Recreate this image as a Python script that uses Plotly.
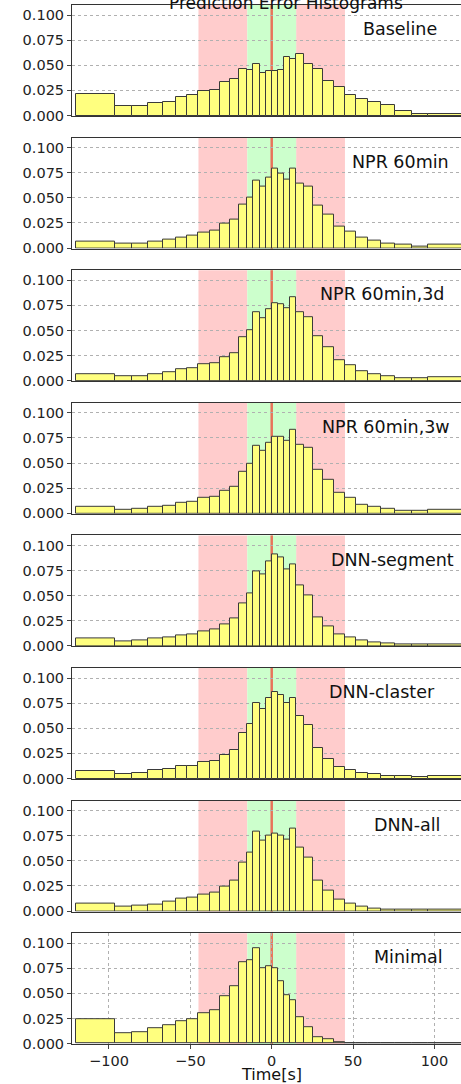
import plotly.graph_objects as go

edges = [-120, -96, -86, -76, -67, -59, -52, -45, -38, -31.5, -25.5, -20, -15, -11.25, -7.5, -3.75, 0,
         3.75, 7.5, 11.25, 15, 20, 25.5, 31.5, 38, 45, 52, 59, 67, 76, 86, 96, 120]

names = ["Baseline", "NPR 60min", "NPR 60min,3d", "NPR 60min,3w", "DNN-segment", "DNN-claster", "DNN-all", "Minimal"]

baseline = [.021, .009, .0095, .012, .0135, .018, .020, .024, .025, .033, .036, .046, .045, .051, .042, .044,
            .044, .045, .058, .056, .061, .051, .046, .034, .028, .020, .016, .013, .010, .004, .0015, .001]
npr60 = [.0066, .004, .0046, .0066, .008, .010, .012, .0156, .017, .024, .0285, .0437, .050, .067, .061, .070,
         .079, .074, .068, .079, .0646, .0616, .0427, .0338, .021, .0166, .010, .007, .0046, .0033, .0017, .0036]
npr3d = [.0066, .0043, .0046, .0066, .0086, .0113, .0123, .0162, .0172, .0235, .0275, .0437, .0503, .0679, .0626, .0709,
         .0775, .0758, .0719, .0828, .0682, .0632, .044, .0331, .0205, .0152, .0093, .0063, .004, .0026, .0023, .0036]
npr3w = [.0063, .0036, .0043, .0063, .0079, .0106, .0116, .0152, .0166, .0222, .0265, .0414, .0493, .0669, .0619, .0702,
         .0762, .0758, .0719, .0834, .0685, .0652, .0434, .0331, .0205, .0152, .0086, .006, .004, .0026, .002, .0036]
dnn_seg = [.007, .004, .005, .0073, .0086, .0106, .0119, .0149, .0162, .0215, .0272, .0424, .0523, .0742, .0715, .0841,
           .0914, .0881, .0762, .0811, .0603, .0503, .0288, .0195, .0116, .0086, .0053, .0036, .0023, .0017, .0013, .0017]
dnn_cl = [.0079, .0046, .0056, .0083, .0092, .0122, .0129, .0162, .0178, .0231, .0287, .0455, .0541, .0749, .0696, .0802,
          .0861, .0835, .0749, .0805, .062, .0531, .0304, .0198, .0116, .0086, .0059, .0043, .0026, .002, .0017, .0026]
dnn_all = [.0076, .004, .0053, .0066, .0092, .0122, .0132, .0162, .0182, .0241, .0304, .0482, .0584, .0789, .0703, .0749,
           .0769, .0752, .071, .0818, .0637, .0528, .0304, .0208, .0116, .0073, .004, .0026, .0017, .0013, .0013, .0017]
minimal = [.0247, .0107, .0117, .0153, .018, .022, .0247, .030, .033, .0467, .057, .081, .0827, .0947, .0747, .0773,
           .075, .062, .048, .043, .026, .016, .0067, .0043, .0017, .0007, .0005, .0003, .0002, .0001, .0001, .0001]
series = [baseline, npr60, npr3d, npr3w, dnn_seg, dnn_cl, dnn_all, minimal]
label_x = [79, 79, 68, 70, 74, 68, 83, 84]

yticks = [0, 0.025, 0.05, 0.075, 0.1]
xticks = [-100, -50, 0, 50, 100]

centers = [(a + b) / 2 for a, b in zip(edges[:-1], edges[1:])]
widths = [b - a for a, b in zip(edges[:-1], edges[1:])]

W, H = 461, 1084
mt, mb = 5, 40
ph = H - mt - mb
top0, pitch, hgt = 5, 132.6, 111
fig = go.Figure()
shapes, annos = [], []
for i, (nm, vals) in enumerate(zip(names, series)):
    k = "" if i == 0 else str(i + 1)
    t = top0 + i * pitch
    d1 = min(1, 1 - (t - mt) / ph)
    d0 = max(0, 1 - (t + hgt - mt) / ph)
    fig.add_trace(go.Bar(x=centers, y=vals, width=widths, xaxis="x" + k, yaxis="y" + k,
                         marker=dict(color="#ffff7f", line=dict(color="#3a3a3a", width=1)),
                         showlegend=False))
    last = i == len(names) - 1
    fig.update_layout(**{
        "xaxis" + k: dict(domain=[0, 1], anchor="y" + k, range=[-122.7, 116.3], tickvals=xticks,
                          showticklabels=last, ticks="outside" if last else "", ticklen=4,
                          showgrid=last, gridcolor="#b0b0b0", griddash="dot", zeroline=False,
                          showline=True, linecolor="#333", mirror=True,
                          tickfont=dict(size=14.5)),
        "yaxis" + k: dict(domain=[d0, d1], anchor="x" + k, range=[-0.0005, 0.11], tickvals=yticks,
                          tickformat=".3f", ticks="outside", ticklen=4, showgrid=True,
                          gridcolor="#b0b0b0", griddash="dot", zeroline=False,
                          showline=True, linecolor="#333", mirror=True, tickfont=dict(size=14.5)),
    })
    xr, yd = "x" + k, "y" + k + " domain"
    for (a, b, c) in [(-45, -15, "#ffcccc"), (15, 45, "#ffcccc"), (-15, 15, "#ccffcc")]:
        shapes.append(dict(type="rect", xref=xr, yref=yd, x0=a, x1=b, y0=0, y1=1,
                           fillcolor=c, line_width=0, layer="below"))
    shapes.append(dict(type="line", xref=xr, yref=yd, x0=0, x1=0, y0=0, y1=1,
                       line=dict(color="#e8735a", width=2.5), layer="below"))
    annos.append(dict(text=nm, x=label_x[i], y=0.086, xref=xr, yref="y" + k, showarrow=False,
                      font=dict(size=17.5, color="#111")))

annos.append(dict(text="Time[s]", x=0, xref="x8", y=-(1074 - 1044) / ph, yref="paper", yanchor="middle",
                  showarrow=False, font=dict(size=16, color="#111")))
annos.append(dict(text="Prediction Error Histograms", x=0.55, y=1 + 2 / ph, xref="paper", yref="paper",
                  showarrow=False, yanchor="middle", font=dict(size=17, color="#111")))
fig.update_layout(width=W, height=H, margin=dict(l=72, r=0, t=mt, b=mb), plot_bgcolor="white",
                  paper_bgcolor="white", bargap=0, shapes=shapes, annotations=annos,
                  font=dict(family="DejaVu Sans", color="#222"))
fig.write_html("out.html", config={"displayModeBar": False},
               post_script="document.body.style.margin='0';document.body.style.overflow='hidden';")
